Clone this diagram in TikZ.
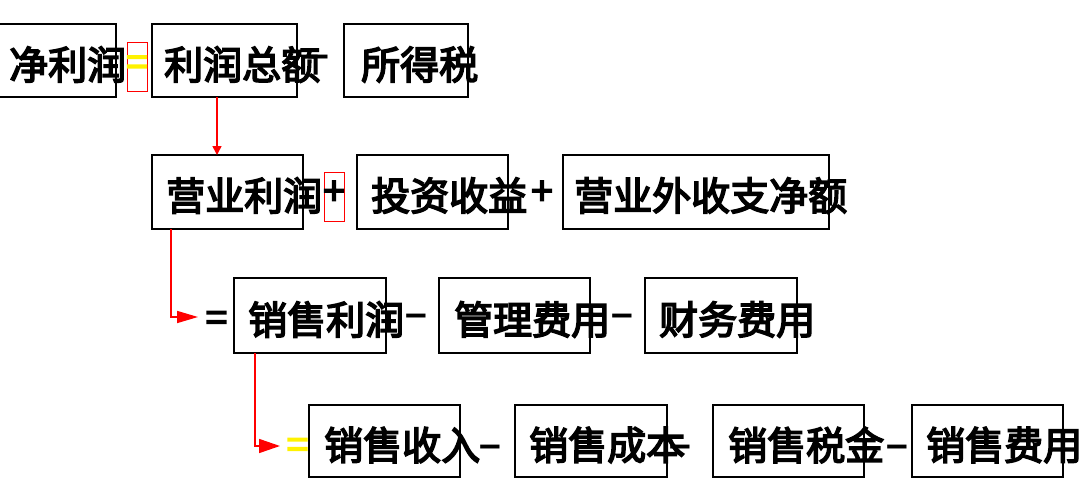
\documentclass[tikz,border=0pt]{standalone}
\usepackage{fontspec}
\newfontfamily\cjk[FakeBold=4]{Noto Sans CJK SC}
\newfontfamily\dashfont{Liberation Sans}
\usetikzlibrary{arrows.meta}
\begin{document}
\begin{tikzpicture}[x=1pt,y=-1pt,
  box/.style={draw=black, line width=1.2pt, inner sep=0pt, outer sep=0pt, anchor=north west},
  redbox/.style={box, draw=red, line width=1pt},
  txt/.style={inner sep=0pt, anchor=west, font=\cjk\fontsize{39}{42}\selectfont},
  op/.style={inner sep=0pt, anchor=center, font=\cjk\fontsize{39}{42}\selectfont},
  minus/.style={inner sep=0pt, anchor=base, font=\dashfont\bfseries\fontsize{39}{42}\selectfont},
  redline/.style={draw=red, line width=1.6pt},
]
\useasboundingbox (0,0) rectangle (1090,503);
% row 1
\node[box, minimum width=121pt, minimum height=73pt] (A) at (-5,24) {};
\node[redbox, minimum width=20pt, minimum height=49pt] (Ar) at (127,43) {};
\node[box, minimum width=145pt, minimum height=73pt] (B) at (152,24) {};
\node[box, minimum width=124pt, minimum height=73pt] (C) at (344,24) {};
% row 2
\node[box, minimum width=151pt, minimum height=74pt] (D) at (152,155) {};
\node[redbox, minimum width=20pt, minimum height=49pt] (Dr) at (324,172) {};
\node[box, minimum width=151pt, minimum height=74pt] (E) at (357,155) {};
\node[box, minimum width=266pt, minimum height=74pt] (F) at (563,155) {};
% row 3
\node[box, minimum width=152pt, minimum height=75pt] (G) at (234,278) {};
\node[box, minimum width=151pt, minimum height=75pt] (H) at (439,278) {};
\node[box, minimum width=152pt, minimum height=75pt] (I) at (645,278) {};
% row 4
\node[box, minimum width=151pt, minimum height=72pt] (J) at (309,405) {};
\node[box, minimum width=152pt, minimum height=72pt] (K) at (515,405) {};
\node[box, minimum width=151pt, minimum height=72pt] (L) at (713,405) {};
\node[box, minimum width=151pt, minimum height=72pt] (M) at (912,405) {};
% texts
\node[txt] (tA) at (9,64.5) {净利润};
\node[op, text=yellow] (qA) at (137,66) {=};
\node[txt] (tB) at (164,64.5) {利润总额};
\node[minus] (mB) at (318,68) {–};
\node[txt] (tC) at (361,64.5) {所得税};
\node[txt] (tD) at (166,195.5) {营业利润};
\node[op] (pD) at (334,193) {+};
\node[txt] (tE) at (371,195.5) {投资收益};
\node[op] (pE) at (542,193) {+};
\node[txt] (tF) at (574,195.5) {营业外收支净额};
\node[op] (qG) at (216.5,321.5) {=};
\node[txt] (tG) at (248,319.5) {销售利润};
\node[minus] (mG) at (416,326) {–};
\node[txt] (tH) at (454,319.5) {管理费用};
\node[minus] (mH) at (622,326) {–};
\node[txt] (tI) at (659,319.5) {财务费用};
\node[op, text=yellow] (qJ) at (297.5,448.5) {=};
\node[txt] (tJ) at (324,445) {销售收入};
\node[minus] (mJ) at (490,457) {–};
\node[txt] (tK) at (529,445) {销售成本};
\node[minus] (mK) at (680,457) {–};
\node[txt] (tL) at (728,445) {销售税金};
\node[minus] (mL) at (897,457) {–};
\node[txt] (tM) at (926,445) {销售费用};
% connectors
\path (B.south) ++(-7.5,0) coordinate (a1);
\draw[redline, -{Triangle[length=9pt,width=9pt]}] (a1) -- (a1 |- D.north);
\path (D.south west) ++(19,0) coordinate (a2);
\coordinate (t2) at (198,317);
\draw[redline, -{Triangle[length=21pt,width=12pt]}] (a2) |- (t2);
\path (G.south west) ++(21,0) coordinate (a3);
\coordinate (t3) at (280,446);
\draw[redline, -{Triangle[length=21pt,width=14pt]}] (a3) |- (t3);
\end{tikzpicture}
\end{document}
